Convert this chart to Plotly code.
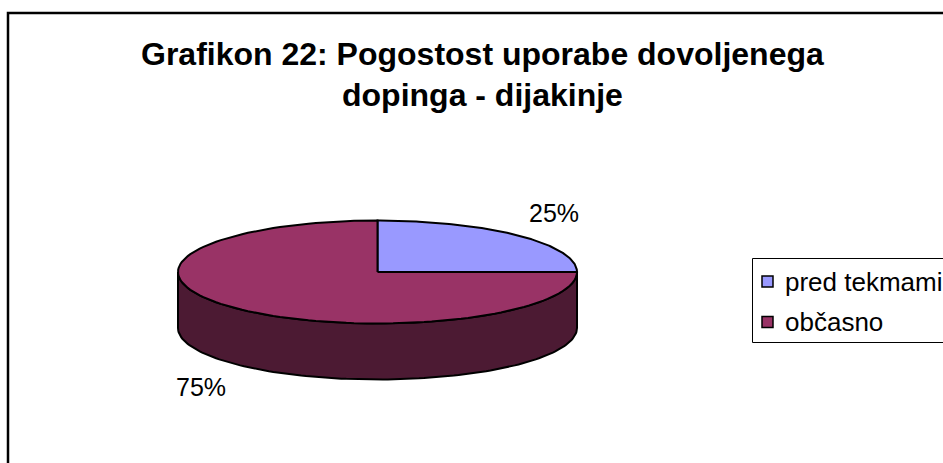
import math
import plotly.graph_objects as go

# ---- data ----
categories = ["pred tekmami", "občasno"]
values = [25, 75]
title_lines = ["Grafikon 22: Pogostost uporabe dovoljenega", "dopinga - dijakinje"]

# ---- style / geometry (pixel-like coordinate system) ----
W, H = 943, 463
top_colors = ["#9999FF", "#993366"]
side_colors = ["#4D4D80", "#4C1A33"]
cx, cy, rx, ry, depth = 377.5, 272.0, 199.5, 51.5, 56.0
lab_rx, lab_ry = 249.0, 83.0
FONT = "Liberation Sans, Arial, sans-serif"

total = float(sum(values))
fig = go.Figure()


def ell(theta_deg, yoff=0.0):
    t = math.radians(theta_deg)
    return cx + rx * math.cos(t), cy - ry * math.sin(t) + yoff


def arc(a, b, yoff=0.0, n=120):
    xs, ys = [], []
    for i in range(n + 1):
        th = a + (b - a) * i / n
        x, y = ell(th, yoff)
        xs.append(x)
        ys.append(y)
    return xs, ys


# slice angles: start at 12 o'clock, clockwise
angles = []
cum = 0.0
for v in values:
    a0 = 90 - 360 * cum / total
    cum += v
    a1 = 90 - 360 * cum / total
    angles.append((a0, a1))

# side walls (front half only: angles where sin < 0)
for i, (a0, a1) in enumerate(angles):
    lo, hi = a1, a0
    for k in range(-2, 3):
        s0, s1 = -180 + 360 * k, 0 + 360 * k
        p, q = max(lo, s0), min(hi, s1)
        if q - p > 1e-9:
            xt, yt = arc(p, q)
            xb, yb = arc(q, p, depth)
            fig.add_trace(go.Scatter(
                x=xt + xb + [xt[0]], y=yt + yb + [yt[0]],
                mode="lines", fill="toself", fillcolor=side_colors[i],
                line=dict(color="black", width=2), hoverinfo="skip", showlegend=False))

# top faces
for i, (a0, a1) in enumerate(angles):
    xa, ya = arc(a0, a1)
    fig.add_trace(go.Scatter(
        x=[cx] + xa + [cx], y=[cy] + ya + [cy],
        mode="lines", fill="toself", fillcolor=top_colors[i],
        line=dict(color="black", width=2), hoverinfo="skip", showlegend=False))

# percentage labels
annotations = []
for i, (a0, a1) in enumerate(angles):
    mid = math.radians((a0 + a1) / 2)
    lx = cx + lab_rx * math.cos(mid)
    ly = cy - lab_ry * math.sin(mid)
    if math.sin(mid) < 0:
        ly += depth
    annotations.append(dict(
        x=lx, y=ly, xref="x", yref="y", showarrow=False,
        text=f"{values[i] / total * 100:.0f}%",
        font=dict(family=FONT, size=25, color="black")))

# title
title_y = [54, 95]
for t, yy in zip(title_lines, title_y):
    annotations.append(dict(
        x=482.5, y=yy, xref="x", yref="y", showarrow=False, text=f"<b>{t}</b>",
        font=dict(family=FONT, size=32, color="black")))

# legend (custom)
leg_y = [281.5, 322]
for i, c in enumerate(categories):
    fig.add_trace(go.Scatter(
        x=[767.5], y=[leg_y[i]], mode="markers",
        marker=dict(symbol="square", size=11, color=top_colors[i],
                    line=dict(color="black", width=1.5)),
        hoverinfo="skip", showlegend=False))
    annotations.append(dict(
        x=783, y=leg_y[i], xref="x", yref="y", xanchor="left", showarrow=False,
        text=c, font=dict(family=FONT, size=26, color="black")))

shapes = [
    dict(type="rect", xref="x", yref="y", x0=8, y0=13, x1=W + 20, y1=H + 20,
         line=dict(color="black", width=2.5), layer="below"),
    dict(type="rect", xref="x", yref="y", x0=752.5, y0=258.5, x1=W + 20, y1=342.5,
         line=dict(color="black", width=1), layer="below"),
]

fig.update_layout(
    width=W, height=H, margin=dict(l=0, r=0, t=0, b=0),
    paper_bgcolor="white", plot_bgcolor="white",
    xaxis=dict(range=[0, W], visible=False, fixedrange=True),
    yaxis=dict(range=[H, 0], visible=False, fixedrange=True),
    annotations=annotations, shapes=shapes, showlegend=False,
)

fig.write_html("out.html")
